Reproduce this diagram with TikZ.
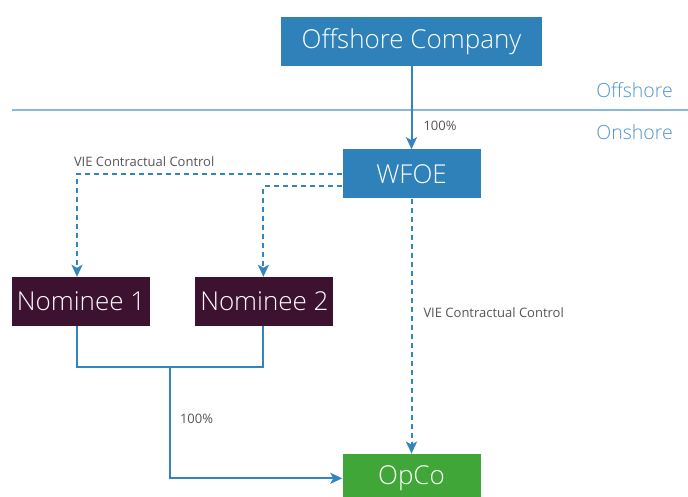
\documentclass[tikz,border=0pt]{standalone}
\usepackage{fontspec}
\setmainfont{Open Sans}
\newfontfamily\boxfont{Open Sans}[UprightFont={* Light}]
\usepackage{xcolor}
\usetikzlibrary{arrows.meta,positioning}
\definecolor{boxblue}{HTML}{2F82B9}
\definecolor{linkblue}{HTML}{3385C0}
\definecolor{shoreblue}{HTML}{8CB8D8}
\definecolor{zoneblue}{HTML}{4F95CC}
\definecolor{nompurple}{HTML}{3D1230}
\definecolor{opgreen}{HTML}{40A638}
\definecolor{taggray}{HTML}{555555}
\tikzset{%
  entity/.style={text=white,minimum height=49pt,minimum width=138pt,inner sep=0pt,font=\boxfont\fontsize{26}{26}\selectfont},
  arrow/.style={line width=2pt,draw=linkblue,-{Stealth[length=12pt,width=11pt,inset=3pt]}},
  ctrl/.style={arrow,dash pattern=on 5pt off 4pt},
  tag/.style={text=taggray,inner sep=0pt,font=\fontsize{13}{13}\selectfont},
  zone/.style={text=zoneblue,inner sep=0pt,font=\boxfont\fontsize{19.5}{19.5}\selectfont},
  shore/.style={line width=2pt,draw=shoreblue},
}

\begin{document}
\begin{tikzpicture}[x=1pt,y=-1pt]
      \useasboundingbox (0,0) rectangle (688,496);
      \clip (0,0) rectangle (688,496);

      \node[entity,fill=boxblue,minimum width=261pt] (company) at (411.5,41.5) {Offshore Company};
      \node[entity,fill=boxblue,below=83pt of company] (wfoe) {WFOE};
      \node[entity,fill=nompurple] (nom1) at (81,301.5) {Nominee 1};
      \node[entity,fill=nompurple,right=45pt of nom1] (nom2) {Nominee 2};
      \node[entity,fill=opgreen,below=255pt of wfoe] (opco) {OpCo};

      % offshore / onshore divide
      \coordinate (shoreL) at (12,110);
      \coordinate (shoreR) at (688,110);
      \draw[shore] (shoreL) -- (shoreR);
      \node[zone,anchor=base east] (offlbl) at (673,97) {Offshore};
      \node[zone,anchor=base east] (onlbl) at (673,139) {Onshore};

      \draw[arrow] (company) -- node[tag,pos=0.72,anchor=west,xshift=11pt] {100\%} (wfoe);
      \draw[ctrl] (wfoe.west) -| node[tag,pos=0.5,anchor=base west,xshift=-4pt,yshift=7pt] {VIE Contractual Control} ([xshift=-4pt]nom1.north);
      \draw[ctrl] ([yshift=-12.5pt]wfoe.west) -| ([xshift=-1pt]nom2.north);
      \draw[ctrl] (wfoe) -- node[tag,pos=0.447,anchor=west,xshift=11pt] {VIE Contractual Control} (opco);

      \coordinate (merge) at (170,367);
      \draw[arrow,-] ([xshift=-4pt]nom1.south) |- (merge) -| ([xshift=-1pt]nom2.south);
      \draw[arrow] (merge) |- node[tag,pos=0.234,anchor=west,xshift=9pt] {100\%} (opco.west);
    \end{tikzpicture}
\end{document}
